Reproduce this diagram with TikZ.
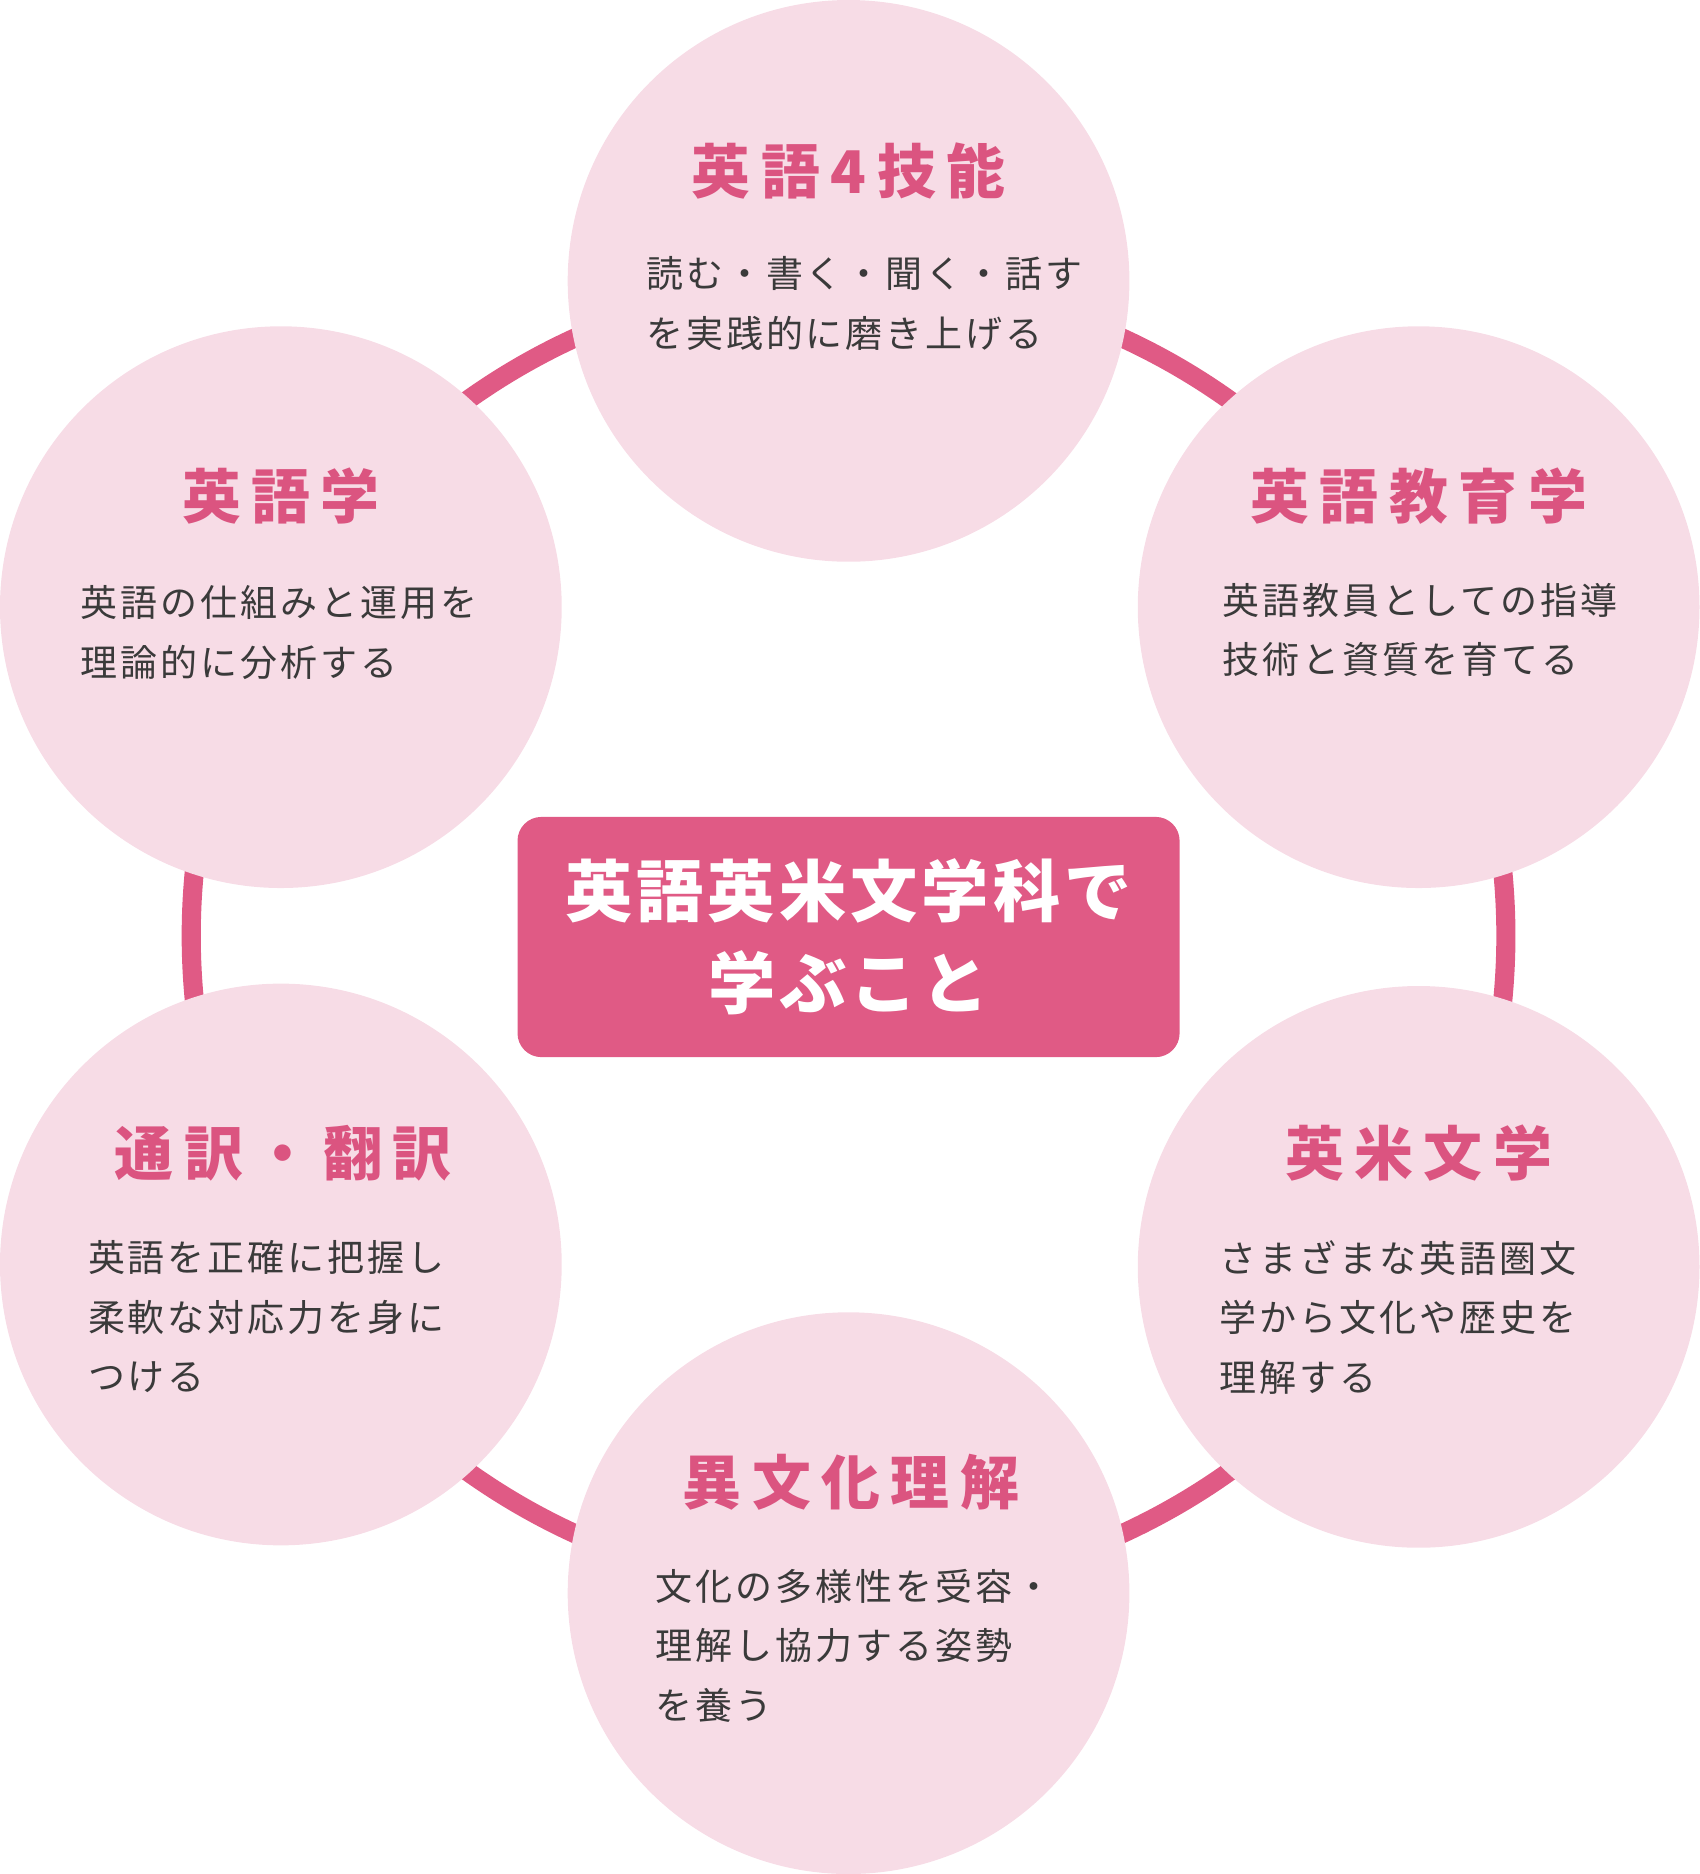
\documentclass[tikz,border=0pt]{standalone}
\usepackage{fontspec}
\setmainfont{Noto Sans CJK JP}
\usetikzlibrary{positioning}
\definecolor{ringpink}{HTML}{E05A85}
\definecolor{bubble}{HTML}{F7DCE6}
\definecolor{titlepink}{HTML}{DB5480}
\definecolor{bodygray}{HTML}{3A3A3A}
\tikzset{
  bubble/.style={circle,fill=bubble,minimum size=470\unit,inner sep=0pt},
  ttl/.style={text=titlepink,font=\fontsize{14}{16}\selectfont\bfseries\addfontfeatures{LetterSpace=18}},
  body/.style={text=bodygray,align=left,anchor=north west,inner sep=0pt,
    font=\fontsize{8.8}{14.2}\selectfont\addfontfeatures{LetterSpace=8}}
}
\newlength\unit
\setlength\unit{0.01cm}
\begin{document}
\begin{tikzpicture}[x=0.01cm,y=-0.01cm]
\useasboundingbox (0,0) rectangle (1422,1568);
% ring
\draw[ringpink,line width=16\unit] (710,783) circle (550);
% bubbles
\node[bubble] (skill) at (710,235) {};
\node[bubble] (ling)  at (235,508) {};
\node[bubble] (edu)   at (1187,508) {};
\node[bubble] (trans) at (235,1058) {};
\node[bubble] (lit)   at (1187,1060) {};
\node[bubble] (cult)  at (710,1333) {};
% center
\node[fill=ringpink,rounded corners=20\unit,minimum width=554\unit,minimum height=201\unit,
  text=white,align=center,font=\fontsize{16}{22}\selectfont\bfseries\addfontfeatures{LetterSpace=6}]
  (main) at (710,784) {英語英米文学科で\\学ぶこと};
% titles
\node[ttl] at (710,143) {英語4技能};
\node[ttl] at (235,415) {英語学};
\node[ttl] at (1187,415) {英語教育学};
\node[ttl] at (237,965) {通訳・翻訳};
\node[ttl] at (1187,965) {英米文学};
\node[ttl] at (712,1240) {異文化理解};
% texts
\node[body] at (540,214) {読む・書く・聞く・話す\\を実践的に磨き上げる};
\node[body] at (67,489) {英語の仕組みと運用を\\理論的に分析する};
\node[body] at (1022,487) {英語教員としての指導\\技術と資質を育てる};
\node[body] at (73,1037) {英語を正確に把握し\\柔軟な対応力を身に\\つける};
\node[body] at (1020,1037) {さまざまな英語圏文\\学から文化や歴史を\\理解する};
\node[body] at (548,1312) {文化の多様性を受容・\\理解し協力する姿勢\\を養う};
\end{tikzpicture}
\end{document}
